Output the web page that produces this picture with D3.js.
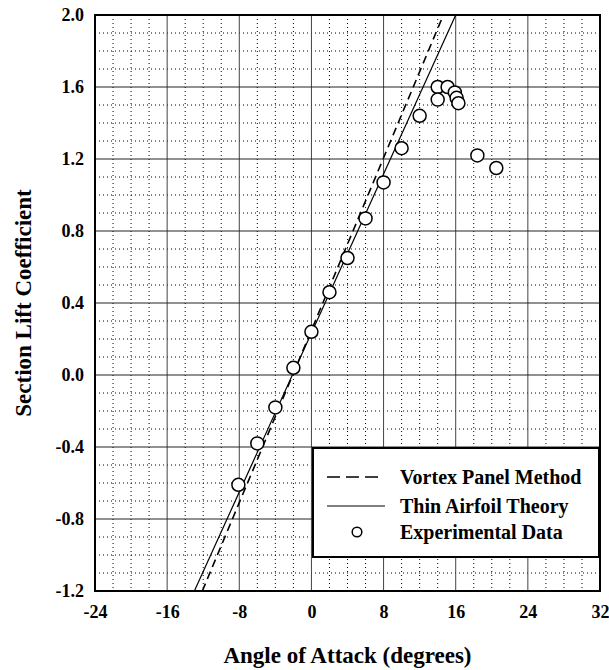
<!DOCTYPE html>
<html>
<head>
<meta charset="utf-8">
<script src="https://cdnjs.cloudflare.com/ajax/libs/d3/7.8.5/d3.min.js"></script>
<style>
  body { margin: 0; background: #fff; }
  svg { display: block; font-family: "Liberation Serif", "Times New Roman", serif; font-weight: bold; }
</style>
</head>
<body>
<div id="chart"></div>
<script>
let width = 609;
let height = 670;

// experimental data
var expAlpha = [-8.1, -6.0, -4.0, -2.0, 0.0, 2.0, 4.0, 6.0, 8.0, 10.0, 12.0, 14.0, 14.0, 15.1, 15.9, 16.1, 16.3, 18.4, 20.5];
var expCl = [-0.61, -0.38, -0.18, 0.04, 0.24, 0.46, 0.65, 0.87, 1.07, 1.26, 1.44, 1.60, 1.53, 1.60, 1.57, 1.54, 1.51, 1.22, 1.15];

// theory lines (end points)
var vortexAlpha = [-12.1, 14.63];
var vortexCl = [-1.2, 2.0];
var thinAlpha = [-12.98, 16.0];
var thinCl = [-1.2, 2.0];

// ticks
var xTicks = [-24, -16, -8, 0, 8, 16, 24, 32];
var yTicks = [-1.2, -0.8, -0.4, 0.0, 0.4, 0.8, 1.2, 1.6, 2.0];
var legendLabels = ["Vortex Panel Method", "Thin Airfoil Theory", "Experimental Data"];

// plot box
var pLeft = 95, pRight = 600, pTop = 15, pBottom = 591;

var x = d3.scaleLinear().domain([-24, 32]).range([pLeft, pRight]);
var y = d3.scaleLinear().domain([-1.2, 2.0]).range([pBottom, pTop]);

var svg = d3.select("#chart").append("svg")
    .attr("width", width)
    .attr("height", height);

svg.append("defs").append("clipPath").attr("id", "clip")
    .append("rect")
    .attr("x", pLeft).attr("y", pTop)
    .attr("width", pRight - pLeft).attr("height", pBottom - pTop);

// minor dotted grid
var minorX = d3.range(-24, 32.01, 2).filter(function (d) { return d % 8 !== 0; });
var minorY = d3.range(-12, 20.01, 1).filter(function (d) { return d % 4 !== 0; })
    .map(function (d) { return d / 10; });

var grid = svg.append("g");
grid.selectAll(".mx").data(minorX).enter().append("line")
    .attr("x1", function (d) { return x(d); }).attr("x2", function (d) { return x(d); })
    .attr("y1", pTop).attr("y2", pBottom)
    .attr("stroke", "#000").attr("stroke-width", 1).attr("stroke-dasharray", "1,3");
grid.selectAll(".my").data(minorY).enter().append("line")
    .attr("y1", function (d) { return y(d); }).attr("y2", function (d) { return y(d); })
    .attr("x1", pLeft).attr("x2", pRight)
    .attr("stroke", "#000").attr("stroke-width", 1).attr("stroke-dasharray", "1,3");

// major grid
grid.selectAll(".MX").data(xTicks).enter().append("line")
    .attr("x1", function (d) { return x(d); }).attr("x2", function (d) { return x(d); })
    .attr("y1", pTop).attr("y2", pBottom)
    .attr("stroke", "#444").attr("stroke-width", 1);
grid.selectAll(".MY").data(yTicks).enter().append("line")
    .attr("y1", function (d) { return y(d); }).attr("y2", function (d) { return y(d); })
    .attr("x1", pLeft).attr("x2", pRight)
    .attr("stroke", "#222").attr("stroke-width", 1);

// theory lines
var line = d3.line()
    .x(function (d) { return x(d[0]); })
    .y(function (d) { return y(d[1]); });

var plot = svg.append("g").attr("clip-path", "url(#clip)");
plot.append("path")
    .attr("d", line(d3.zip(vortexAlpha, vortexCl)))
    .attr("fill", "none").attr("stroke", "#000")
    .attr("stroke-width", 1.6).attr("stroke-dasharray", "8,5");
plot.append("path")
    .attr("d", line(d3.zip(thinAlpha, thinCl)))
    .attr("fill", "none").attr("stroke", "#000")
    .attr("stroke-width", 1.2);

// experimental points
svg.append("g")
    .selectAll("circle")
    .data(d3.zip(expAlpha, expCl))
    .enter()
    .append("circle")
    .attr("cx", function (d) { return x(d[0]); })
    .attr("cy", function (d) { return y(d[1]); })
    .attr("r", 6.5)
    .attr("fill", "#fff")
    .attr("stroke", "#000")
    .attr("stroke-width", 1.5);

// plot border
svg.append("rect")
    .attr("x", pLeft).attr("y", pTop)
    .attr("width", pRight - pLeft).attr("height", pBottom - pTop)
    .attr("fill", "none").attr("stroke", "#000").attr("stroke-width", 2);

// axes
var fmtY = function (d) { return d3.format(".1f")(d).replace("\u2212", "-"); };
var fmtX = function (d) { return String(d); };

var xAxis = svg.append("g")
    .attr("transform", "translate(0," + pBottom + ")")
    .call(d3.axisBottom(x).tickValues(xTicks).tickSize(0).tickPadding(14).tickFormat(fmtX));
xAxis.select(".domain").remove();
xAxis.selectAll("text").attr("font-size", 18).attr("font-family", "Liberation Serif").attr("font-weight", "bold").attr("fill", "#000");

var yAxis = svg.append("g")
    .attr("transform", "translate(" + pLeft + ",0)")
    .call(d3.axisLeft(y).tickValues(yTicks).tickSize(0).tickPadding(11).tickFormat(fmtY));
yAxis.select(".domain").remove();
yAxis.selectAll("text").attr("font-size", 18).attr("font-family", "Liberation Serif").attr("font-weight", "bold").attr("fill", "#000");

// axis titles
svg.append("text")
    .attr("x", (pLeft + pRight) / 2).attr("y", 663)
    .attr("text-anchor", "middle")
    .attr("font-size", 23)
    .text("Angle of Attack (degrees)");

svg.append("text")
    .attr("transform", "translate(31," + (pTop + pBottom) / 2 + ") rotate(-90)")
    .attr("text-anchor", "middle")
    .attr("font-size", 23)
    .text("Section Lift Coefficient");

// legend
var legend = svg.append("g");
legend.append("rect")
    .attr("x", 313).attr("y", 448)
    .attr("width", 286).attr("height", 109)
    .attr("fill", "#fff").attr("stroke", "#000").attr("stroke-width", 2);

var rowY = [477, 506, 532];
legend.append("line")
    .attr("x1", 327).attr("x2", 380).attr("y1", rowY[0]).attr("y2", rowY[0])
    .attr("stroke", "#000").attr("stroke-width", 1.6).attr("stroke-dasharray", "13,6");
legend.append("line")
    .attr("x1", 327).attr("x2", 385).attr("y1", rowY[1]).attr("y2", rowY[1])
    .attr("stroke", "#000").attr("stroke-width", 1.2);
legend.append("circle")
    .attr("cx", 357).attr("cy", rowY[2]).attr("r", 4.8)
    .attr("fill", "#fff").attr("stroke", "#000").attr("stroke-width", 1.5);

legend.selectAll(".lt").data(legendLabels).enter().append("text")
    .attr("x", 400)
    .attr("y", function (d, i) { return rowY[i] + 7; })
    .attr("font-size", 20)
    .text(function (d) { return d; });
</script>
</body>
</html>
